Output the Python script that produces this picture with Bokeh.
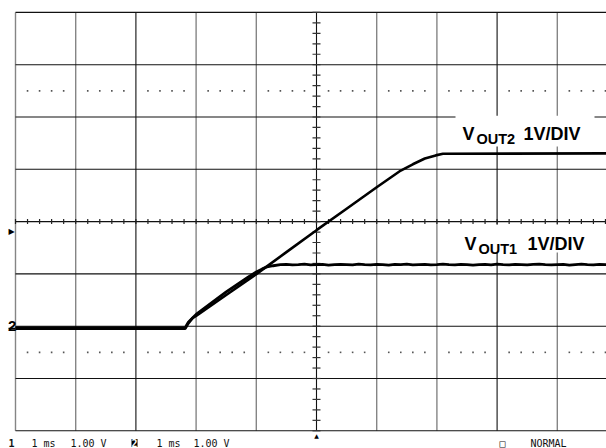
import math
from bokeh.plotting import figure
from bokeh.models import Range1d, Label
from bokeh.embed import file_html
from bokeh.resources import INLINE

# ---------------- data (time in ms, voltage in V above channel ground) ----------------
VOUT2_T = [0.0, 2.82, 2.87, 2.94, 3.0, 3.5, 4.0, 4.5, 5.0, 5.5, 6.0, 6.4, 6.6, 6.8, 6.98, 7.1, 10.0]
VOUT2_V = [0.01, 0.01, 0.11, 0.19, 0.23, 0.63, 1.03, 1.45, 1.87, 2.28, 2.69, 3.01, 3.13, 3.24, 3.30, 3.33, 3.34]

VOUT1_RAMP_T = [0.0, 2.82, 2.87, 2.94, 3.0, 3.5, 3.85, 4.0, 4.1, 4.18, 4.28, 4.4]
VOUT1_RAMP_V = [-0.01, -0.01, 0.09, 0.19, 0.26, 0.69, 0.96, 1.07, 1.13, 1.17, 1.19, 1.21]
VOUT1_FLAT_T = [4.5, 4.6, 4.7, 4.8, 4.9, 5.0, 5.1, 5.2, 5.3, 5.4, 5.5, 5.6, 5.7, 5.8, 5.9,
                6.0, 6.1, 6.2, 6.3, 6.4, 6.5, 6.6, 6.7, 6.8, 6.9, 7.0, 7.1, 7.2, 7.3, 7.4,
                7.5, 7.6, 7.7, 7.8, 7.9, 8.0, 8.1, 8.2, 8.3, 8.4, 8.5, 8.6, 8.7, 8.8, 8.9,
                9.0, 9.1, 9.2, 9.3, 9.4, 9.5, 9.6, 9.7, 9.8, 10.0]
VOUT1_FLAT_V = [1.215, 1.205, 1.21, 1.22, 1.205, 1.21, 1.215, 1.20, 1.21, 1.215,
                1.21, 1.205, 1.22, 1.21, 1.205, 1.215, 1.21, 1.20, 1.215, 1.21,
                1.22, 1.205, 1.21, 1.215, 1.205, 1.21, 1.22, 1.21, 1.205, 1.215,
                1.21, 1.20, 1.21, 1.215, 1.205, 1.22, 1.21, 1.205, 1.215, 1.21,
                1.205, 1.215, 1.22, 1.21, 1.205, 1.21, 1.215, 1.20, 1.21, 1.22,
                1.21, 1.205, 1.215, 1.21, 1.21]
VOUT1_T = VOUT1_RAMP_T + VOUT1_FLAT_T
VOUT1_V = VOUT1_RAMP_V + VOUT1_FLAT_V

MS_PER_DIV = 1.0
V_PER_DIV = 1.0
N_XDIV = 10
N_YDIV = 8
GND_DIV = 1.966          # both channel grounds, divisions above the bottom edge

LABEL_VOUT2 = ["V", "OUT2", "1V/DIV"]
LABEL_VOUT1 = ["V", "OUT1", "1V/DIV"]
STATUS_TEXTS = ["1", "1 ms", "1.00 V", "2", "1 ms", "1.00 V", "\u25a1", "NORMAL"]

# ---------------- layout (frame = whole canvas; graticule placed inside) ----------------
W, H = 606, 448
GRAT_LEFT, GRAT_BOTTOM = 15.0, 430.3     # canvas px of graticule origin
PX_X = 60.2                              # px per division horizontally
PX_Y = 52.3                              # px per division vertically
Y0 = -GND_DIV * V_PER_DIV
Y1 = (N_YDIV - GND_DIV) * V_PER_DIV
X1 = N_XDIV * MS_PER_DIV


def dx(px):
    return (px - GRAT_LEFT) / PX_X * MS_PER_DIV


def dy(py):
    return ((GRAT_BOTTOM - py) / PX_Y - GND_DIV) * V_PER_DIV


p = figure(width=W, height=H, output_backend="svg", toolbar_location=None,
           x_range=Range1d(dx(0), dx(W)), y_range=Range1d(dy(H), dy(0)),
           x_axis_type=None, y_axis_type=None,
           min_border_left=0, min_border_right=0, min_border_top=0, min_border_bottom=0)
p.outline_line_color = None
p.background_fill_color = "white"
p.border_fill_color = "white"

# graticule lines
gray_cols = [k * MS_PER_DIV for k in range(N_XDIV + 1) if k % 3 != 2]
black_cols = [k * MS_PER_DIV for k in range(N_XDIV + 1) if k % 3 == 2]
rows = [(k - GND_DIV) * V_PER_DIV for k in range(N_YDIV + 1)]
p.segment(x0=gray_cols, y0=[Y0] * len(gray_cols), x1=gray_cols, y1=[Y1] * len(gray_cols),
          line_color="#858585", line_width=1.4)
p.segment(x0=black_cols, y0=[Y0] * len(black_cols), x1=black_cols, y1=[Y1] * len(black_cols),
          line_color="#111111", line_width=1.1)
p.segment(x0=[0] * len(rows), y0=rows, x1=[X1] * len(rows), y1=rows,
          line_color="#111111", line_width=1.1)

# dotted rows at 1.5 and 6.5 divisions
dot_x = [k * 0.2 * MS_PER_DIV for k in range(N_XDIV * 5) if k % 5]
for rdiv in (1.5, 6.5):
    p.scatter(dot_x, [(rdiv - GND_DIV) * V_PER_DIV] * len(dot_x), marker="square",
              size=1.6, fill_color="#555555", line_color=None)

# centre-axis minor ticks
cx = N_XDIV / 2 * MS_PER_DIV
cy = (N_YDIV / 2 - GND_DIV) * V_PER_DIV
tx = [k * 0.2 * MS_PER_DIV for k in range(N_XDIV * 5 + 1)]
p.scatter(tx, [cy] * len(tx), marker="dash", size=5, angle=math.pi / 2,
          line_color="#222222", line_width=1.2)
ty = [(k * 0.2 - GND_DIV) * V_PER_DIV for k in range(N_YDIV * 5 + 1)]
p.scatter([cx] * len(ty), ty, marker="dash", size=8, line_color="#333333", line_width=1.2)

# white boxes behind the trace labels
p.quad(left=[dx(455), dx(456)], right=[dx(594), dx(596)],
       top=[dy(115.2), dy(224.2)], bottom=[dy(146), dy(252)],
       fill_color="white", line_color=None)

# traces
p.line(VOUT2_T, VOUT2_V, line_color="black", line_width=2.6)
p.line(VOUT1_T, VOUT1_V, line_color="black", line_width=2.8)

# channel-2 ground marker underline
p.segment(x0=[dx(8)], y0=[dy(327.8)], x1=[dx(15)], y1=[dy(327.8)],
          line_color="black", line_width=1.2)

# trace labels
FONT = "Liberation Sans"


def trace_label(parts, xv, xs, xd, base):
    p.add_layout(Label(x=dx(xv), y=dy(base), text=parts[0], text_font=FONT,
                       text_font_style="bold", text_font_size="18px",
                       text_baseline="alphabetic", text_color="black"))
    p.add_layout(Label(x=dx(xs), y=dy(base + 5), text=parts[1], text_font=FONT,
                       text_font_style="bold", text_font_size="14.5px",
                       text_baseline="alphabetic", text_color="black"))
    p.add_layout(Label(x=dx(xd), y=dy(base), text=parts[2], text_font=FONT,
                       text_font_style="bold", text_font_size="18px",
                       text_baseline="alphabetic", text_color="black"))


trace_label(LABEL_VOUT2, 462, 476, 523, 133.3)
trace_label(LABEL_VOUT1, 464, 478, 527, 243.3)

# channel markers
p.add_layout(Label(x=dx(8), y=dy(231), text="\u25b6", text_font="DejaVu Sans",
                   text_font_size="8px", text_baseline="middle", text_color="black"))
p.add_layout(Label(x=dx(7.5), y=dy(325.5), text="2", text_font=FONT, text_font_style="bold",
                   text_font_size="15px", text_baseline="alphabetic", text_color="black"))
p.add_layout(Label(x=dx(316), y=dy(431), text="\u25b2", text_font="DejaVu Sans",
                   text_font_size="6px", text_baseline="top", text_align="center",
                   text_color="black"))

# status line
MONO = "DejaVu Sans Mono"
status_x = [8, 31, 70, 131, 156, 193, 499, 530]
for i, (txt, sx) in enumerate(zip(STATUS_TEXTS, status_x)):
    kw = dict(x=dx(sx), y=dy(442.5), text=txt, text_font=MONO, text_font_size="10px",
              text_baseline="alphabetic", text_color="#111111")
    if i == 0:
        kw["text_font_style"] = "bold"
    if i == 3:
        kw.update(text_color="white", background_fill_color="black", text_font_style="bold")
    p.add_layout(Label(**kw))

open("out.html", "w").write(file_html(p, INLINE))
